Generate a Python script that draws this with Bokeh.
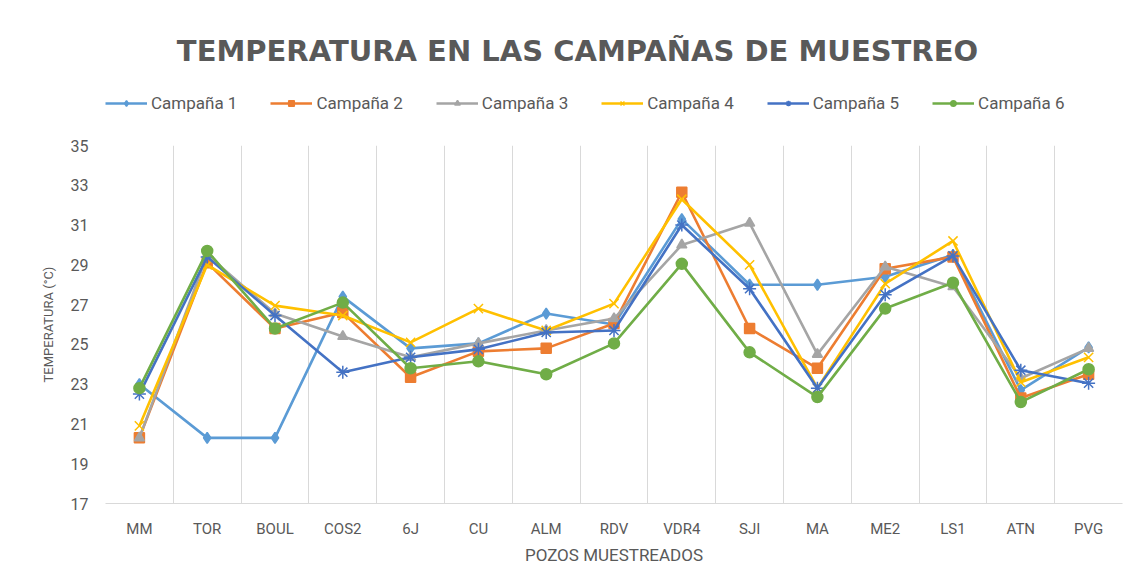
from bokeh.plotting import figure
from bokeh.layouts import column
from bokeh.models import (FixedTicker, Legend, LegendItem, Range1d, Label)
from bokeh.embed import file_html
from bokeh.resources import INLINE

pozos = ["MM", "TOR", "BOUL", "COS2", "6J", "CU", "ALM", "RDV", "VDR4", "SJI", "MA", "ME2", "LS1", "ATN", "PVG"]

campana_1 = [23.0, 20.3, 20.3, 27.4, 24.8, 25.05, 26.55, 26.0, 31.3, 28.0, 28.0, 28.4, 29.5, 22.7, 24.85]
campana_2 = [20.3, 29.1, 25.8, 26.6, 23.35, 24.65, 24.8, 26.05, 32.65, 25.8, 23.8, 28.8, 29.4, 22.3, 23.5]
campana_3 = [20.3, 29.5, 26.55, 25.4, 24.35, 25.05, 25.7, 26.3, 30.0, 31.1, 24.5, 28.9, 27.9, 23.3, 24.8]
campana_4 = [20.9, 29.0, 26.95, 26.45, 25.1, 26.8, 25.7, 27.05, 32.3, 29.0, 22.8, 28.05, 30.2, 23.1, 24.35]
campana_5 = [22.5, 29.4, 26.45, 23.6, 24.35, 24.75, 25.6, 25.7, 31.0, 27.8, 22.8, 27.5, 29.45, 23.7, 23.05]
campana_6 = [22.8, 29.7, 25.8, 27.1, 23.8, 24.15, 23.5, 25.05, 29.05, 24.6, 22.35, 26.8, 28.1, 22.1, 23.75]

series_names = ["Campaña 1", "Campaña 2", "Campaña 3", "Campaña 4", "Campaña 5", "Campaña 6"]
series_values = [campana_1, campana_2, campana_3, campana_4, campana_5, campana_6]
colors = ["#5B9BD5", "#ED7D31", "#A5A5A5", "#FFC000", "#4472C4", "#70AD47"]
markers = ["diamond", "square", "triangle", "x", "asterisk", "circle"]
marker_sizes = [11, 10, 10, 13, 13, 11]

y_ticks = [17, 19, 21, 23, 25, 27, 29, 31, 33, 35]

TEXT = "#595959"
FONT = "Roboto"

W, H = 1132, 585
HEAD = 120                      # height of the header (title + legend)
FL, FT, FW, FH = 105, 145, 1017, 358
xs = [i + 0.5 for i in range(len(pozos))]

# ---------- header: title and legend (its frame is aligned with the chart's frame) ----------
head = figure(width=W, height=HEAD, output_backend="svg", toolbar_location=None,
              x_range=Range1d(0, FW), y_range=Range1d(0, HEAD),
              x_axis_type=None, y_axis_type=None, title_location=None,
              min_border_left=0, min_border_right=0, min_border_top=0, min_border_bottom=0)
head.outline_line_color = None
head.grid.visible = False
head.background_fill_color = "white"
head.border_fill_color = "white"

head.add_layout(Label(x=577 - FL, y=HEAD - 50, text="TEMPERATURA EN LAS CAMPAÑAS DE MUESTREO",
                      text_align="center", text_baseline="middle",
                      text_font="DejaVu Sans", text_font_size="29px", text_font_style="bold",
                      text_color=TEXT))

items = []
for name, vals, col, mk in zip(series_names, series_values, colors, markers):
    # hidden copies of the series, used only to draw the legend swatches
    lr = head.line(xs, vals, line_color=col, line_width=2.6, visible=False)
    sr = head.scatter(xs, vals, marker=mk, size=8, fill_color=col, line_color=col,
                      line_width=1.5, visible=False)
    items.append(LegendItem(label=name, renderers=[lr, sr]))

legend = Legend(items=items, orientation="horizontal", location=(0, HEAD - 103 - 10),
                glyph_width=42, glyph_height=14, label_standoff=4, spacing=33,
                label_text_font=FONT, label_text_font_size="17px", label_text_color=TEXT,
                inactive_fill_alpha=0, click_policy="none",
                border_line_color=None, background_fill_alpha=0, padding=0, margin=0)
head.add_layout(legend, "center")

# ---------- main chart ----------
fig = figure(width=W, height=H - HEAD, output_backend="svg", toolbar_location=None,
             x_range=Range1d(0, len(pozos)), y_range=Range1d(17, 35), title_location=None,
             min_border_left=FL, min_border_right=W - FL - FW,
             min_border_top=FT - HEAD, min_border_bottom=H - FT - FH)
fig.outline_line_color = None
fig.background_fill_color = "white"
fig.border_fill_color = "white"

fig.xaxis.ticker = FixedTicker(ticks=xs)
fig.xaxis.major_label_overrides = {x: name for x, name in zip(xs, pozos)}
fig.xaxis.major_tick_line_color = None
fig.xaxis.minor_tick_line_color = None
fig.xaxis.axis_line_color = "#D9D9D9"
fig.xaxis.axis_line_width = 1
fig.xaxis.major_label_text_font = FONT
fig.xaxis.major_label_text_font_size = "15px"
fig.xaxis.major_label_text_color = TEXT
fig.xaxis.major_label_standoff = 10
fig.xaxis.axis_label = "POZOS MUESTREADOS"
fig.xaxis.axis_label_text_font = FONT
fig.xaxis.axis_label_text_font_size = "17px"
fig.xaxis.axis_label_text_font_style = "normal"
fig.xaxis.axis_label_text_color = TEXT
fig.xaxis.axis_label_standoff = 4

fig.yaxis.ticker = FixedTicker(ticks=y_ticks)
fig.yaxis.axis_line_color = None
fig.yaxis.major_tick_line_color = None
fig.yaxis.minor_tick_line_color = None
fig.yaxis.major_label_text_font = FONT
fig.yaxis.major_label_text_font_size = "16px"
fig.yaxis.major_label_text_color = TEXT
fig.yaxis.major_label_standoff = 11
fig.yaxis.axis_label = "TEMPERATURA (°C)"
fig.yaxis.axis_label_text_font = FONT
fig.yaxis.axis_label_text_font_size = "13px"
fig.yaxis.axis_label_text_font_style = "normal"
fig.yaxis.axis_label_text_color = TEXT
fig.yaxis.axis_label_standoff = 12

fig.ygrid.grid_line_color = None
fig.xgrid.ticker = FixedTicker(ticks=list(range(len(pozos) + 1)))
fig.xgrid.grid_line_color = "#D9D9D9"
fig.xgrid.grid_line_width = 1

for name, vals, col, mk, ms in zip(series_names, series_values, colors, markers, marker_sizes):
    fig.line(xs, vals, line_color=col, line_width=2.6)
    fig.scatter(xs, vals, marker=mk, size=ms, fill_color=col, line_color=col, line_width=1.5)

p = column(head, fig, spacing=0)

open("out.html", "w").write(file_html(p, INLINE))
